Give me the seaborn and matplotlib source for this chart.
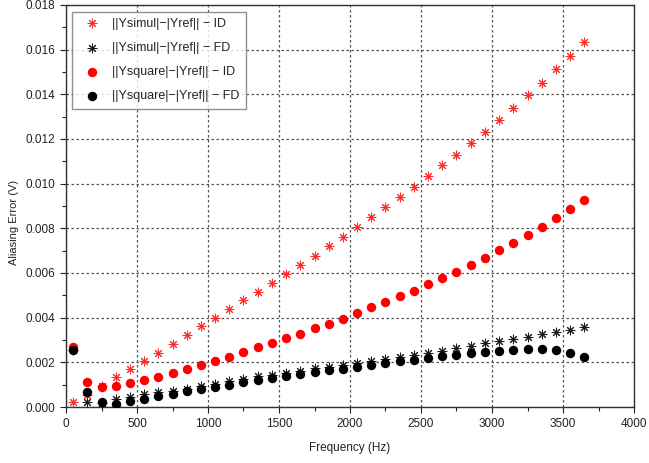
import numpy as np
import pandas as pd
import matplotlib
matplotlib.use("Agg")
import matplotlib.pyplot as plt
from matplotlib.ticker import MultipleLocator
import seaborn as sns

freq = list(range(50, 3651, 100))

simul_id = [0.21, 0.55, 0.92, 1.34, 1.70, 2.06, 2.44, 2.83, 3.22, 3.61,
            3.98, 4.38, 4.77, 5.16, 5.56, 5.96, 6.38, 6.78, 7.22, 7.63,
            8.05, 8.50, 8.95, 9.40, 9.86, 10.35, 10.83, 11.30, 11.81, 12.32,
            12.85, 13.41, 13.96, 14.52, 15.12, 15.73, 16.36]
simul_fd = [2.55, 0.21, 0.20, 0.36, 0.47, 0.60, 0.65, 0.72, 0.82, 0.95,
            1.04, 1.15, 1.25, 1.37, 1.43, 1.52, 1.61, 1.73, 1.77, 1.89,
            1.97, 2.07, 2.15, 2.22, 2.33, 2.42, 2.52, 2.63, 2.74, 2.86,
            2.97, 3.04, 3.15, 3.27, 3.37, 3.46, 3.56]
square_id = [2.68, 1.10, 0.89, 0.92, 1.06, 1.19, 1.34, 1.52, 1.70, 1.86,
             2.07, 2.25, 2.46, 2.67, 2.86, 3.07, 3.29, 3.52, 3.73, 3.95,
             4.21, 4.46, 4.70, 4.95, 5.19, 5.49, 5.76, 6.05, 6.37, 6.68,
             7.05, 7.34, 7.69, 8.07, 8.46, 8.86, 9.28]
square_fd = [2.56, 0.68, 0.24, 0.12, 0.25, 0.36, 0.49, 0.60, 0.70, 0.81,
             0.89, 0.98, 1.10, 1.19, 1.28, 1.37, 1.46, 1.55, 1.64, 1.71,
             1.79, 1.86, 1.95, 2.04, 2.12, 2.21, 2.28, 2.35, 2.40, 2.47,
             2.52, 2.56, 2.59, 2.59, 2.55, 2.44, 2.25]

labels = ["||Ysimul|\u2212|Yref|| \u2212 ID",
          "||Ysimul|\u2212|Yref|| \u2212 FD",
          "||Ysquare|\u2212|Yref|| \u2212 ID",
          "||Ysquare|\u2212|Yref|| \u2212 FD"]

sns.set_style("white")
plt.rcParams['font.family'] = ['Liberation Sans', 'DejaVu Sans']
plt.rcParams['axes.unicode_minus'] = True

fig = plt.figure(figsize=(6.49, 4.63), dpi=100)
ax = fig.add_axes([66/649, 1-407/463, (634-66)/649, (407-5)/463])

series = [
    (simul_id, labels[0], "#ff2a2a", (8, 2, 0), 40, 0.75),
    (simul_fd, labels[1], "#1a1a1a", (8, 2, 0), 40, 0.75),
    (square_id, labels[2], "#ff0000", "o", 46, 0),
    (square_fd, labels[3], "#000000", "o", 46, 0),
]
for vals, lab, col, mk, s, lw in series:
    df = pd.DataFrame({"f": freq, "v": np.array(vals) / 1000.0})
    sns.scatterplot(data=df, x="f", y="v", ax=ax, color=col, marker=mk, s=s,
                    linewidth=lw, edgecolor=col, label=lab, zorder=3)

ax.set_xlim(0, 4000)
ax.set_ylim(0, 0.018)
ax.xaxis.set_major_locator(MultipleLocator(500))
ax.xaxis.set_minor_locator(MultipleLocator(250))
ax.yaxis.set_major_locator(MultipleLocator(0.002))
ax.yaxis.set_minor_locator(MultipleLocator(0.001))
ax.yaxis.set_major_formatter(matplotlib.ticker.FormatStrFormatter('%.3f'))
ax.tick_params(which='both', direction='out', colors='#222222', labelsize=8.5,
               bottom=True, left=True, top=False, right=False)
ax.tick_params(which='major', length=4, width=0.8, pad=4)
ax.tick_params(which='minor', length=3, width=0.8)
ax.grid(True, which='major', linestyle=(0, (2, 2)), color='#555555', linewidth=0.9)
ax.set_axisbelow(True)
for sp in ax.spines.values():
    sp.set_color('#333333')
    sp.set_linewidth(1.0)

ax.set_xlabel("Frequency (Hz)", fontsize=8.5, color='#222222')
ax.xaxis.set_label_coords(0.5, -(442 - 407) / 402)
ax.set_ylabel("Aliasing Error (V)", fontsize=8, color='#222222')
ax.yaxis.set_label_coords(-(66 - 19) / 568, (407 - 222) / 402)

leg = ax.legend(loc='upper left', bbox_to_anchor=(6 / 568, 1 - 6.5 / 402),
                borderaxespad=0, fontsize=9,
                frameon=True, fancybox=False, edgecolor='#777777',
                labelspacing=0.98, handletextpad=0.5, borderpad=0.5,
                handlelength=2.2, markerscale=1.0)
leg.get_frame().set_linewidth(1.0)

fig.savefig("out.png", dpi=100, facecolor='white')
